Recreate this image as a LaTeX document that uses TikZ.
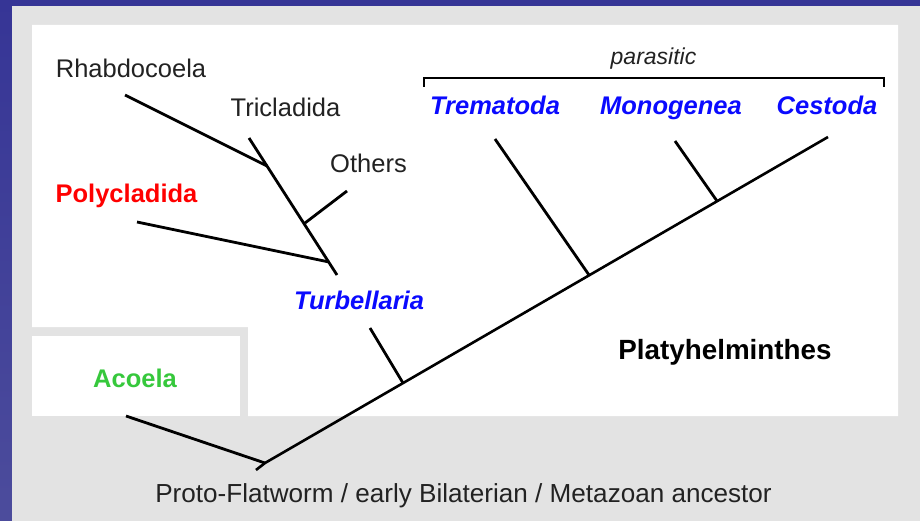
\documentclass[tikz,border=0pt]{standalone}
\usepackage{fontspec}
\setmainfont{Liberation Sans}
\definecolor{frameblue}{HTML}{363596}
\definecolor{frameblue2}{HTML}{4C4C9C}
\definecolor{panelgray}{HTML}{E3E3E3}
\definecolor{txtgray}{HTML}{222222}
\definecolor{taxblue}{HTML}{0A0AFF}
\definecolor{taxred}{HTML}{FF0000}
\definecolor{taxgreen}{HTML}{36C83C}
\tikzset{
  lbl/.style={inner sep=0pt, anchor=base, text=txtgray, font=\fontsize{25.5}{30}\selectfont},
  grp/.style={inner sep=0pt, anchor=base, font=\fontsize{25.5}{30}\selectfont\bfseries\itshape, text=taxblue},
  branch/.style={draw=black, line width=2.8pt},
  trunk/.style={draw=black, line width=2.6pt},
}
\begin{document}
\begin{tikzpicture}[x=1pt,y=-1pt]
\useasboundingbox (0,0) rectangle (920,521);
% background
\shade[top color=frameblue, bottom color=frameblue2] (0,0) rectangle (920,521);
\fill[panelgray] (12,6) rectangle (920,521);
\fill[white] (32,25) -- (898,25) -- (898,416) -- (248,416) -- (248,327) -- (32,327) -- cycle;
\fill[white] (32,336) rectangle (240,416);

% labels
\node[lbl] (rhab) at (131,78) {Rhabdocoela};
\node[lbl] (tric) at (285.5,117) {Tricladida};
\node[lbl] (oth) at (368.5,173) {Others};
\node[lbl, font=\fontsize{25.5}{30}\selectfont\bfseries, text=taxred] (poly) at (126.5,203) {Polycladida};
\node[grp] (turb) at (359,309) {Turbellaria};
\node[grp] (trem) at (495,115) {Trematoda};
\node[grp] (mono) at (671,115) {Monogenea};
\node[grp] (cest) at (827,115) {Cestoda};
\node[lbl, font=\fontsize{23}{28}\selectfont\itshape] (para) at (653.5,65) {parasitic};
\node[lbl, font=\fontsize{27.8}{32}\selectfont\bfseries, text=black] (platy) at (725,359) {Platyhelminthes};
\node[lbl, font=\fontsize{25.5}{30}\selectfont\bfseries, text=taxgreen] (acoela) at (135,387) {Acoela};
\node[lbl, font=\fontsize{26.1}{30}\selectfont] (proto) at (463.5,502) {Proto-Flatworm / early Bilaterian / Metazoan ancestor};

% tree coordinates
\coordinate (root) at (265,463);
\coordinate (tail) at (256,470);
\coordinate (acoelaend) at (126,416);
\coordinate (tip) at (828,137);
\coordinate (jturb) at (403,383);
\coordinate (turbend) at (370,328);
\coordinate (jtrem) at (589,275);
\coordinate (tremend) at (495,139);
\coordinate (jmono) at (717,201);
\coordinate (monoend) at (675,141);
\coordinate (stemtop) at (249,138);
\coordinate (stembot) at (337,275);
\coordinate (jrhab) at (267,166);
\coordinate (rhabend) at (125,95);
\coordinate (joth) at (305,223);
\coordinate (othend) at (347,191);
\coordinate (jpoly) at (329,262);
\coordinate (polyend) at (137,222);
\coordinate (bl) at (424,87);
\coordinate (br) at (884,87);

% branches
\draw[trunk] (tail) -- (root) -- (tip);
\draw[branch] (acoelaend) -- (root);
\draw[branch] (turbend) -- (jturb);
\draw[branch] (tremend) -- (jtrem);
\draw[branch] (monoend) -- (jmono);
\draw[branch] (stemtop) -- (stembot);
\draw[branch] (rhabend) -- (jrhab);
\draw[branch] (othend) -- (joth);
\draw[branch] (polyend) -- (jpoly);
% bracket
\draw[line width=2.4pt] (bl) -- ++(0,-9) -| (br);
\end{tikzpicture}
\end{document}
